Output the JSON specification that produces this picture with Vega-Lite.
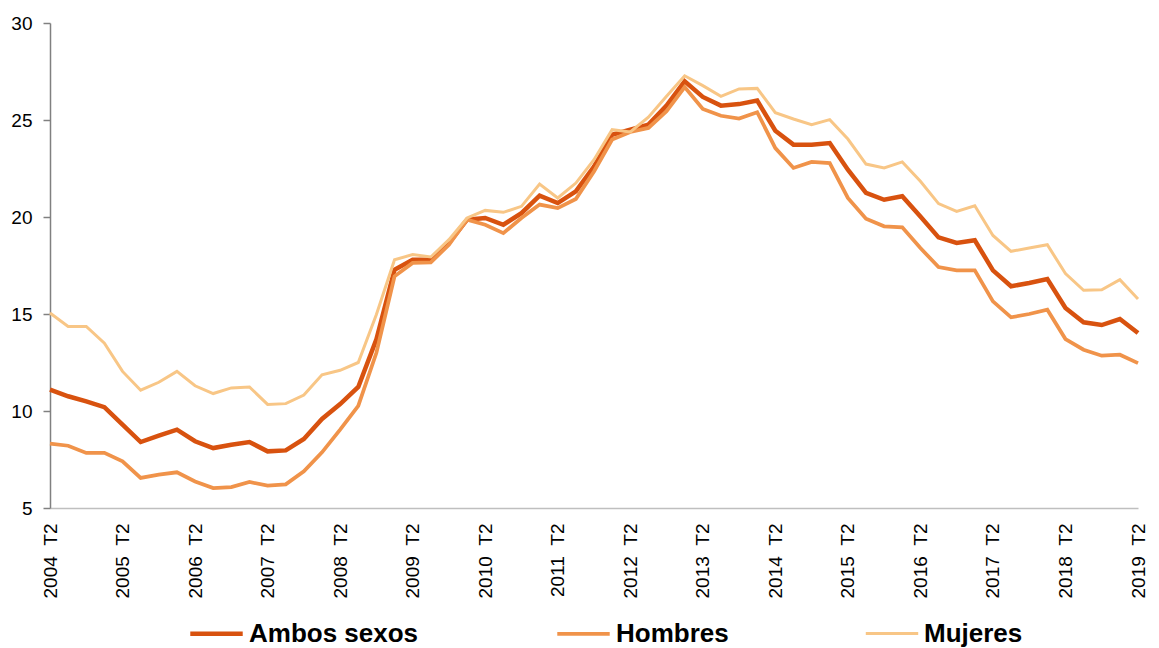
{
  "$schema": "https://vega.github.io/schema/vega-lite/v6.json",
  "autosize": {"type": "none"},
  "width": 1088,
  "height": 485,
  "padding": {"left": 50, "top": 23, "right": 21, "bottom": 140},
  "background": "white",
  "config": {
    "view": {"stroke": null},
    "font": "Liberation Sans"
  },
  "data": {
    "values": [
      {"q": "2004 T2", "Ambos sexos": 11.1, "Hombres": 8.32, "Mujeres": 15.05},
      {"q": "2004 T3", "Ambos sexos": 10.76, "Hombres": 8.21, "Mujeres": 14.36},
      {"q": "2004 T4", "Ambos sexos": 10.5, "Hombres": 7.84, "Mujeres": 14.36},
      {"q": "2005 T1", "Ambos sexos": 10.2, "Hombres": 7.84, "Mujeres": 13.5},
      {"q": "2005 T2", "Ambos sexos": 9.3, "Hombres": 7.41, "Mujeres": 12.04},
      {"q": "2005 T3", "Ambos sexos": 8.4, "Hombres": 6.55, "Mujeres": 11.07},
      {"q": "2005 T4", "Ambos sexos": 8.73, "Hombres": 6.72, "Mujeres": 11.48},
      {"q": "2006 T1", "Ambos sexos": 9.04, "Hombres": 6.84, "Mujeres": 12.04},
      {"q": "2006 T2", "Ambos sexos": 8.44, "Hombres": 6.37, "Mujeres": 11.3},
      {"q": "2006 T3", "Ambos sexos": 8.09, "Hombres": 6.03, "Mujeres": 10.9},
      {"q": "2006 T4", "Ambos sexos": 8.26, "Hombres": 6.08, "Mujeres": 11.19},
      {"q": "2007 T1", "Ambos sexos": 8.4, "Hombres": 6.34, "Mujeres": 11.24},
      {"q": "2007 T2", "Ambos sexos": 7.92, "Hombres": 6.15, "Mujeres": 10.34},
      {"q": "2007 T3", "Ambos sexos": 7.97, "Hombres": 6.22, "Mujeres": 10.38},
      {"q": "2007 T4", "Ambos sexos": 8.56, "Hombres": 6.89, "Mujeres": 10.82},
      {"q": "2008 T1", "Ambos sexos": 9.59, "Hombres": 7.87, "Mujeres": 11.87},
      {"q": "2008 T2", "Ambos sexos": 10.36, "Hombres": 9.04, "Mujeres": 12.1},
      {"q": "2008 T3", "Ambos sexos": 11.24, "Hombres": 10.27, "Mujeres": 12.5},
      {"q": "2008 T4", "Ambos sexos": 13.7, "Hombres": 13.0, "Mujeres": 14.97},
      {"q": "2009 T1", "Ambos sexos": 17.28, "Hombres": 16.94, "Mujeres": 17.8},
      {"q": "2009 T2", "Ambos sexos": 17.8, "Hombres": 17.63, "Mujeres": 18.06},
      {"q": "2009 T3", "Ambos sexos": 17.8, "Hombres": 17.66, "Mujeres": 17.94},
      {"q": "2009 T4", "Ambos sexos": 18.66, "Hombres": 18.57, "Mujeres": 18.83},
      {"q": "2010 T1", "Ambos sexos": 19.86, "Hombres": 19.86, "Mujeres": 19.95},
      {"q": "2010 T2", "Ambos sexos": 19.95, "Hombres": 19.6, "Mujeres": 20.34},
      {"q": "2010 T3", "Ambos sexos": 19.6, "Hombres": 19.17, "Mujeres": 20.24},
      {"q": "2010 T4", "Ambos sexos": 20.2, "Hombres": 19.95, "Mujeres": 20.55},
      {"q": "2011 T1", "Ambos sexos": 21.1, "Hombres": 20.64, "Mujeres": 21.7},
      {"q": "2011 T2", "Ambos sexos": 20.72, "Hombres": 20.46, "Mujeres": 20.98},
      {"q": "2011 T3", "Ambos sexos": 21.32, "Hombres": 20.93, "Mujeres": 21.75},
      {"q": "2011 T4", "Ambos sexos": 22.6, "Hombres": 22.35, "Mujeres": 22.95},
      {"q": "2012 T1", "Ambos sexos": 24.24, "Hombres": 23.99, "Mujeres": 24.5},
      {"q": "2012 T2", "Ambos sexos": 24.5, "Hombres": 24.38, "Mujeres": 24.38},
      {"q": "2012 T3", "Ambos sexos": 24.76, "Hombres": 24.59, "Mujeres": 25.14},
      {"q": "2012 T4", "Ambos sexos": 25.74, "Hombres": 25.45, "Mujeres": 26.22},
      {"q": "2013 T1", "Ambos sexos": 26.99, "Hombres": 26.7, "Mujeres": 27.28},
      {"q": "2013 T2", "Ambos sexos": 26.19, "Hombres": 25.57, "Mujeres": 26.77},
      {"q": "2013 T3", "Ambos sexos": 25.74, "Hombres": 25.22, "Mujeres": 26.22},
      {"q": "2013 T4", "Ambos sexos": 25.82, "Hombres": 25.07, "Mujeres": 26.6},
      {"q": "2014 T1", "Ambos sexos": 26.0, "Hombres": 25.4, "Mujeres": 26.63},
      {"q": "2014 T2", "Ambos sexos": 24.45, "Hombres": 23.55, "Mujeres": 25.38},
      {"q": "2014 T3", "Ambos sexos": 23.73, "Hombres": 22.53, "Mujeres": 25.05},
      {"q": "2014 T4", "Ambos sexos": 23.73, "Hombres": 22.84, "Mujeres": 24.76},
      {"q": "2015 T1", "Ambos sexos": 23.81, "Hombres": 22.78, "Mujeres": 25.02},
      {"q": "2015 T2", "Ambos sexos": 22.44, "Hombres": 20.98, "Mujeres": 24.02},
      {"q": "2015 T3", "Ambos sexos": 21.24, "Hombres": 19.91, "Mujeres": 22.73},
      {"q": "2015 T4", "Ambos sexos": 20.89, "Hombres": 19.52, "Mujeres": 22.53},
      {"q": "2016 T1", "Ambos sexos": 21.07, "Hombres": 19.47, "Mujeres": 22.84},
      {"q": "2016 T2", "Ambos sexos": 20.03, "Hombres": 18.4, "Mujeres": 21.84},
      {"q": "2016 T3", "Ambos sexos": 18.95, "Hombres": 17.42, "Mujeres": 20.69},
      {"q": "2016 T4", "Ambos sexos": 18.66, "Hombres": 17.25, "Mujeres": 20.29},
      {"q": "2017 T1", "Ambos sexos": 18.8, "Hombres": 17.25, "Mujeres": 20.58},
      {"q": "2017 T2", "Ambos sexos": 17.25, "Hombres": 15.65, "Mujeres": 19.05},
      {"q": "2017 T3", "Ambos sexos": 16.43, "Hombres": 14.83, "Mujeres": 18.23},
      {"q": "2017 T4", "Ambos sexos": 16.6, "Hombres": 15.0, "Mujeres": 18.4},
      {"q": "2018 T1", "Ambos sexos": 16.8, "Hombres": 15.22, "Mujeres": 18.57},
      {"q": "2018 T2", "Ambos sexos": 15.31, "Hombres": 13.71, "Mujeres": 17.08},
      {"q": "2018 T3", "Ambos sexos": 14.57, "Hombres": 13.16, "Mujeres": 16.22},
      {"q": "2018 T4", "Ambos sexos": 14.43, "Hombres": 12.85, "Mujeres": 16.25},
      {"q": "2019 T1", "Ambos sexos": 14.74, "Hombres": 12.9, "Mujeres": 16.77},
      {"q": "2019 T2", "Ambos sexos": 14.02, "Hombres": 12.47, "Mujeres": 15.77}
    ]
  },
  "transform": [
    {"fold": ["Ambos sexos", "Hombres", "Mujeres"], "as": ["serie", "valor"]}
  ],
  "mark": {"type": "line", "strokeJoin": "miter", "strokeCap": "butt"},
  "encoding": {
    "x": {
      "field": "q",
      "type": "ordinal",
      "sort": null,
      "scale": {"type": "point", "padding": 0},
      "axis": {
        "title": null,
        "labelExpr": "slice(datum.value, -2) == 'T2' ? replace(datum.value, ' ', '\u00a0\u00a0') : ''",
        "labelAngle": -90,
        "labelAlign": "right",
        "labelBaseline": "middle",
        "labelFont": "Liberation Sans",
        "labelFontSize": 19,
        "labelColor": "#000000",
        "labelPadding": 15,
        "labelOverlap": false,
        "ticks": false,
        "domainColor": "#bfbfbf",
        "domainWidth": 1.5,
        "grid": false
      }
    },
    "y": {
      "field": "valor",
      "type": "quantitative",
      "scale": {"domain": [5, 30], "nice": false, "zero": false},
      "axis": {
        "title": null,
        "values": [5, 10, 15, 20, 25, 30],
        "labelFont": "Liberation Sans",
        "labelFontSize": 19,
        "labelColor": "#000000",
        "labelPadding": 11,
        "tickSize": 7,
        "tickColor": "#808080",
        "domainColor": "#808080",
        "domainWidth": 1.5,
        "tickWidth": 1.5,
        "grid": false
      }
    },
    "color": {
      "field": "serie",
      "type": "nominal",
      "scale": {
        "domain": ["Ambos sexos", "Hombres", "Mujeres"],
        "range": ["#D8520F", "#F0934A", "#F8C686"]
      },
      "legend": {
        "title": null,
        "orient": "none",
        "legendX": 138,
        "legendY": 582,
        "direction": "horizontal",
        "symbolType": "stroke",
        "symbolSize": 2750,
        "symbolStrokeWidth": 5,
        "labelFont": "Liberation Sans",
        "labelFontSize": 26,
        "labelFontWeight": "bold",
        "labelColor": "#000000",
        "labelOffset": 4,
        "columnPadding": 130,
        "labelLimit": 300
      }
    },
    "strokeWidth": {
      "field": "serie",
      "type": "nominal",
      "scale": {"domain": ["Ambos sexos", "Hombres", "Mujeres"], "range": [4.5, 3, 3]},
      "legend": null
    }
  }
}
